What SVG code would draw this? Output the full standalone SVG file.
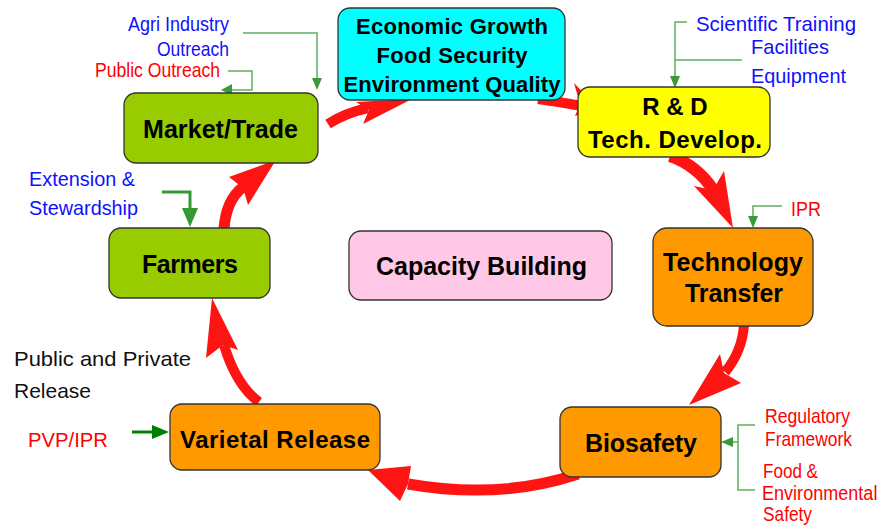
<svg xmlns="http://www.w3.org/2000/svg" width="881" height="527" viewBox="0 0 881 527">
<style>
.box{stroke:#333;stroke-width:1.3}
.nt{font-family:"Liberation Sans",Arial,sans-serif;font-weight:bold;fill:#000;text-anchor:middle}
.lb{font-family:"Liberation Sans",Arial,sans-serif;font-size:21px}
.blue{fill:#1010FF}
.red{fill:#FF0000}
.blk{fill:#111}
.shaft{fill:none;stroke:#FF1414;stroke-linecap:butt}
.head{fill:#FF1414}
.gl{fill:none;stroke:#5DAF5D;stroke-width:1.5}
.gh{fill:#3A9A3A}
</style>
<rect width="881" height="527" fill="#fff"/>
<g id="connectors">
  <!-- red cycle arrows -->
  <path class="shaft" stroke-width="10" d="M328,124 Q345,113 368,108"/>
  <polygon class="head" points="412,99 363,124 369,110 356,102"/>
  <path class="shaft" stroke-width="10" d="M538,99 Q560,102 582,106"/>
  <polygon class="head" points="598,108 574,83 580,104 575,116"/>
  <path class="shaft" stroke-width="12" d="M670,156 Q697,165 714,191"/>
  <polygon class="head" points="733,228 694,186 713,190 724,171"/>
  <path class="shaft" stroke-width="10" d="M744,325 Q742,352 725,372"/>
  <polygon class="head" points="689,405 720,354 724,373 741,383"/>
  <path class="shaft" stroke-width="11" d="M578,474 Q500,500 408,484"/>
  <polygon class="head" points="368,470 411,466 408,484 400,501"/>
  <path class="shaft" stroke-width="10" d="M259,402 Q236,385 224,345"/>
  <polygon class="head" points="212,298 206,358 223,345 238,350"/>
  <path class="shaft" stroke-width="11" d="M224,229 Q226,200 243,187"/>
  <polygon class="head" points="276,160 229,177 243,188 248,205"/>
  <!-- green annotation connectors -->
  <polyline class="gl" points="243,33 317,33 317,80"/>
  <polygon class="gh" points="312,78 322,78 317,90"/>
  <polyline class="gl" points="228,71 252,71 252,90 230,90"/>
  <polygon class="gh" points="221,90 232,84 232,95"/>
  <polyline class="gl" points="687,22 675,22 675,78"/>
  <line class="gl" x1="675" y1="60" x2="742" y2="60"/>
  <polygon class="gh" points="670,76 680,76 675,88"/>
  <polyline class="gl" points="782,206 753,206 753,217"/>
  <polygon class="gh" points="748,216 758,216 753,228"/>
  <polyline class="gl" points="755,425 738,425 738,490 755,490"/>
  <line class="gl" x1="738" y1="442" x2="731" y2="442"/>
  <polygon class="gh" points="733,437 733,447 721,442"/>
  <polyline points="162,192 190,192 190,210" fill="none" stroke="#339933" stroke-width="3"/>
  <polygon points="182,208 198,208 190,227" fill="#339933"/>
  <line x1="132" y1="432" x2="154" y2="432" stroke="#008000" stroke-width="3"/>
  <polygon points="152,425 152,439 169,432" fill="#008000"/>
</g>
<g id="economic">
  <rect class="box" x="338" y="8" width="227" height="92" rx="12" fill="#00FFFF"/>
  <text class="nt" font-size="22" x="452" y="34" textLength="192">Economic Growth</text>
  <text class="nt" font-size="22" x="452" y="63" textLength="151">Food Security</text>
  <text class="nt" font-size="22" x="452" y="92" textLength="217">Environment Quality</text>
</g>
<g id="rnd">
  <rect class="box" x="578" y="87" width="192" height="70" rx="12" fill="#FFFF00"/>
  <text class="nt" font-size="24" x="675" y="115">R &amp; D</text>
  <text class="nt" font-size="24" x="675" y="148" textLength="174">Tech. Develop.</text>
</g>
<g id="techtransfer">
  <rect class="box" x="653" y="228" width="160" height="98" rx="14" fill="#FF9900"/>
  <text class="nt" font-size="25" x="733" y="271" textLength="140">Technology</text>
  <text class="nt" font-size="25" x="734" y="302" textLength="98">Transfer</text>
</g>
<g id="biosafety">
  <rect class="box" x="560" y="407" width="161" height="70" rx="12" fill="#FF9900"/>
  <text class="nt" font-size="25" x="641" y="452" textLength="112">Biosafety</text>
</g>
<g id="varietal">
  <rect class="box" x="170" y="404" width="210" height="66" rx="12" fill="#FF9900"/>
  <text class="nt" font-size="24" x="275" y="448" textLength="190">Varietal Release</text>
</g>
<g id="farmers">
  <rect class="box" x="109" y="228" width="161" height="70" rx="12" fill="#99CC00"/>
  <text class="nt" font-size="25" x="190" y="273" textLength="96">Farmers</text>
</g>
<g id="market">
  <rect class="box" x="124" y="93" width="194" height="70" rx="12" fill="#99CC00"/>
  <text class="nt" font-size="25" x="220.5" y="138" textLength="155">Market/Trade</text>
</g>
<g id="capacity">
  <rect class="box" x="349" y="231" width="263" height="69" rx="12" fill="#FFC8E6"/>
  <text class="nt" font-size="25" x="481.5" y="275" textLength="211">Capacity Building</text>
</g>
<g id="labels">
  <text class="lb blue" x="128" y="31" font-size="22" textLength="101" lengthAdjust="spacingAndGlyphs">Agri Industry</text>
  <text class="lb blue" x="157" y="56" textLength="72" lengthAdjust="spacingAndGlyphs">Outreach</text>
  <text class="lb red" x="95" y="77" font-size="20" textLength="125" lengthAdjust="spacingAndGlyphs">Public Outreach</text>
  <text class="lb blue" x="696" y="31" font-size="23" textLength="160" lengthAdjust="spacingAndGlyphs">Scientific Training</text>
  <text class="lb blue" x="751" y="54" font-size="22" textLength="78" lengthAdjust="spacingAndGlyphs">Facilities</text>
  <text class="lb blue" x="751" y="83" font-size="23" textLength="95" lengthAdjust="spacingAndGlyphs">Equipment</text>
  <text class="lb red" x="791" y="216" font-size="23" textLength="30" lengthAdjust="spacingAndGlyphs">IPR</text>
  <text class="lb red" x="765" y="423" textLength="85" lengthAdjust="spacingAndGlyphs">Regulatory</text>
  <text class="lb red" x="765" y="446" textLength="87" lengthAdjust="spacingAndGlyphs">Framework</text>
  <text class="lb red" x="763" y="478" font-size="20" textLength="55" lengthAdjust="spacingAndGlyphs">Food &amp;</text>
  <text class="lb red" x="0" y="0" font-size="20" transform="matrix(0.86 0 0 1 762 500)">Environmental</text>
  <text class="lb red" x="763" y="521" font-size="20" textLength="49" lengthAdjust="spacingAndGlyphs">Safety</text>
  <text class="lb blue" x="29" y="186" font-size="23" textLength="106" lengthAdjust="spacingAndGlyphs">Extension &amp;</text>
  <text class="lb blue" x="29" y="215" font-size="23" textLength="109" lengthAdjust="spacingAndGlyphs">Stewardship</text>
  <text class="lb blk" x="14" y="366" font-size="24" textLength="177" lengthAdjust="spacingAndGlyphs">Public and Private</text>
  <text class="lb blk" x="14" y="398" font-size="24" textLength="77" lengthAdjust="spacingAndGlyphs">Release</text>
  <text class="lb red" x="28" y="447" font-size="24" textLength="80" lengthAdjust="spacingAndGlyphs">PVP/IPR</text>
</g>
</svg>
